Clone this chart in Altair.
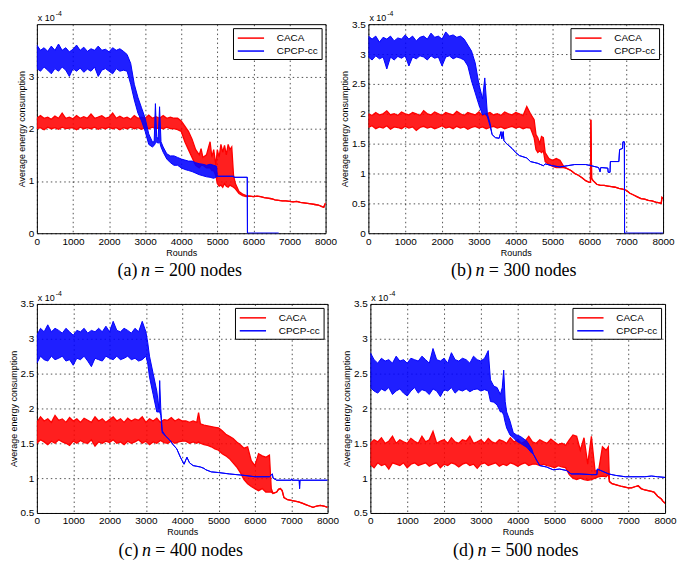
import altair as alt
import pandas as pd

RED = "#ff0000"
BLUE = "#0000ff"
FONT = "Liberation Sans"
SERIF = "Liberation Serif"
SERIES = ["CACA", "CPCP-cc"]
X_TICKS = [0, 1000, 2000, 3000, 4000, 5000, 6000, 7000, 8000]

# ---------------- (a) n = 200 ----------------
A_blue_x = list(range(0, 2500, 100))
A_blue_hi = [3.6, 3.5, 3.55, 3.48, 3.58, 3.5, 3.62, 3.5, 3.55, 3.47, 3.52, 3.6, 3.5, 3.56, 3.48,
             3.53, 3.5, 3.58, 3.5, 3.52, 3.47, 3.55, 3.5, 3.53, 3.48]
A_blue_lo = [3.15, 3.1, 3.18, 3.12, 3.05, 3.15, 3.1, 3.18, 3.12, 3.0, 3.15, 3.1, 3.16, 3.08, 3.14,
             3.1, 3.18, 3.0, 3.12, 3.15, 3.1, 3.05, 3.15, 3.1, 3.12]
A_blue_tail = [(2500, 3.1, 3.42), (2600, 2.85, 3.25), (2700, 2.55, 2.85), (2800, 2.3, 2.6),
               (2900, 2.15, 2.4), (3000, 1.95, 2.2), (3100, 1.7, 1.9), (3200, 1.65, 1.75),
               (3250, 1.68, 1.75), (3285, 1.72, 2.48), (3320, 1.75, 1.85), (3360, 1.72, 1.8),
               (3400, 1.75, 2.42), (3440, 1.65, 1.75), (3500, 1.55, 1.65), (3600, 1.42, 1.52),
               (3700, 1.35, 1.48), (3800, 1.3, 1.48), (3900, 1.3, 1.45), (4000, 1.25, 1.42),
               (4100, 1.22, 1.4), (4200, 1.2, 1.38), (4300, 1.18, 1.38), (4400, 1.15, 1.35),
               (4500, 1.12, 1.33), (4600, 1.1, 1.32), (4700, 1.08, 1.3), (4800, 1.07, 1.32),
               (4900, 1.05, 1.3), (4980, 1.08, 1.28), (5000, 1.09, 1.09), (5450, 1.09, 1.09),
               (5460, 1.07, 1.07), (5830, 1.07, 1.07), (5835, 0, 0), (6700, 0, 0)]
A_red_x = list(range(0, 4000, 100))
A_red_hi = [2.2, 2.25, 2.2, 2.22, 2.18, 2.24, 2.2, 2.3, 2.2, 2.22,
            2.19, 2.25, 2.2, 2.23, 2.2, 2.28, 2.2, 2.22, 2.25, 2.2,
            2.22, 2.3, 2.2, 2.24, 2.2, 2.22, 2.18, 2.25, 2.2, 2.22,
            2.2, 2.26, 2.2, 2.23, 2.2, 2.25, 2.2, 2.22, 2.2, 2.2]
A_red_lo = [2.0, 2.02, 1.98, 2.03, 2.0, 2.02, 1.99, 2.03, 2.0, 2.01,
            2.02, 1.98, 2.03, 2.0, 2.02, 2.0, 2.03, 1.99, 2.02, 2.0,
            2.03, 2.0, 2.02, 1.98, 2.02, 2.0, 2.03, 2.0, 2.02, 1.99,
            2.02, 2.0, 2.03, 2.0, 2.02, 2.0, 2.03, 2.0, 2.0, 1.98]
A_red_tail = [(4000, 1.95, 2.15), (4100, 1.75, 2.05), (4200, 1.6, 1.95), (4300, 1.45, 1.8),
              (4400, 1.3, 1.6), (4500, 1.25, 1.5), (4550, 1.3, 1.62), (4600, 1.3, 1.45),
              (4700, 1.25, 1.5), (4800, 1.25, 1.75), (4850, 1.2, 1.45), (4900, 1.2, 1.6),
              (4960, 1.1, 1.3), (5000, 0.95, 1.6), (5050, 0.9, 1.45), (5100, 0.92, 1.7),
              (5150, 0.88, 1.55), (5200, 0.95, 1.68), (5250, 0.9, 1.5), (5300, 0.88, 1.7),
              (5350, 0.92, 1.6), (5400, 0.9, 1.65), (5450, 0.88, 1.1), (5500, 0.85, 0.95),
              (5600, 0.76, 0.8), (5700, 0.72, 0.75), (5800, 0.7, 0.72), (5900, 0.71, 0.71),
              (6000, 0.7, 0.7), (6100, 0.71, 0.71), (6200, 0.7, 0.7), (6300, 0.68, 0.68),
              (6400, 0.67, 0.67), (6500, 0.66, 0.66), (6600, 0.64, 0.64), (6700, 0.63, 0.63),
              (6800, 0.62, 0.62), (6900, 0.62, 0.62), (7000, 0.61, 0.61), (7100, 0.6, 0.6),
              (7200, 0.61, 0.61), (7300, 0.59, 0.59), (7400, 0.58, 0.58), (7500, 0.57, 0.57),
              (7600, 0.56, 0.56), (7700, 0.55, 0.55), (7800, 0.54, 0.54), (7900, 0.51, 0.51),
              (7950, 0.5, 0.5), (8000, 0.58, 0.58)]

# ---------------- (b) n = 300 ----------------
B_blue_x = list(range(0, 2600, 100))
B_blue_hi = [3.3, 3.25, 3.3, 3.2, 3.28, 3.25, 3.3, 3.22, 3.27, 3.25,
             3.32, 3.25, 3.3, 3.22, 3.28, 3.3, 3.25, 3.35, 3.28, 3.3,
             3.25, 3.37, 3.3, 3.32, 3.28, 3.3]
B_blue_lo = [2.95, 2.9, 2.97, 2.92, 2.95, 2.75, 2.95, 2.9, 2.96, 2.93,
             2.97, 2.8, 2.95, 2.92, 2.97, 2.95, 2.9, 2.97, 2.93, 2.95,
             2.8, 2.95, 2.97, 2.92, 2.95, 2.93]
B_blue_tail = [(2600, 2.9, 3.25), (2700, 2.8, 3.15), (2800, 2.55, 3.05), (2900, 2.35, 2.85),
               (3000, 2.15, 2.5), (3100, 1.98, 2.25), (3160, 2.0, 2.6), (3230, 1.95, 2.0),
               (3300, 1.8, 1.85), (3360, 1.65, 1.65), (3450, 1.6, 1.6), (3550, 1.59, 1.59),
               (3600, 1.7, 1.7), (3620, 1.58, 1.58), (3660, 1.7, 1.7), (3680, 1.55, 1.55),
               (3750, 1.5, 1.5), (3900, 1.42, 1.42), (4000, 1.35, 1.35), (4100, 1.3, 1.3),
               (4300, 1.26, 1.26), (4400, 1.2, 1.2), (4600, 1.17, 1.17), (4750, 1.13, 1.13),
               (4800, 1.16, 1.16), (5000, 1.13, 1.13), (5200, 1.11, 1.11), (5400, 1.13, 1.13),
               (5600, 1.15, 1.15), (5900, 1.15, 1.15), (6050, 1.13, 1.13), (6250, 1.1, 1.1),
               (6290, 1.03, 1.03), (6310, 1.1, 1.1), (6500, 1.09, 1.09), (6510, 1.02, 1.02),
               (6560, 1.02, 1.02), (6570, 1.2, 1.2), (6800, 1.2, 1.2), (6820, 1.4, 1.4),
               (6900, 1.42, 1.42), (6910, 1.53, 1.53), (6950, 1.53, 1.53), (6955, 0, 0),
               (8000, 0, 0)]
B_red_x = list(range(0, 4500, 100))
B_red_hi = [2.0, 1.97, 2.02, 1.98, 2.0, 2.05, 1.98, 2.0, 1.97, 2.03,
            2.0, 1.98, 2.02, 2.0, 1.97, 2.05, 2.0, 1.98, 2.03, 2.0,
            1.97, 2.02, 2.0, 1.98, 2.04, 2.0, 1.97, 2.02, 2.0, 1.98,
            2.03, 1.97, 2.0, 2.02, 1.98, 2.0, 1.97, 2.03, 2.0, 1.98,
            2.02, 2.0, 1.97, 2.12, 2.0]
B_red_lo = [1.77, 1.8, 1.75, 1.78, 1.76, 1.8, 1.74, 1.78, 1.77, 1.75,
            1.79, 1.76, 1.78, 1.72, 1.77, 1.79, 1.76, 1.78, 1.75, 1.77,
            1.8, 1.76, 1.78, 1.75, 1.79, 1.76, 1.78, 1.74, 1.77, 1.79,
            1.76, 1.78, 1.75, 1.77, 1.79, 1.76, 1.78, 1.75, 1.77, 1.79,
            1.76, 1.78, 1.75, 1.77, 1.76]
B_red_tail = [(4500, 1.6, 1.9), (4550, 1.4, 1.65), (4600, 1.35, 1.6), (4650, 1.38, 1.5),
              (4700, 1.35, 1.62), (4750, 1.38, 1.6), (4800, 1.2, 1.35), (4900, 1.15, 1.25),
              (5000, 1.12, 1.22), (5100, 1.1, 1.25), (5200, 1.1, 1.22), (5300, 1.1, 1.12),
              (5400, 1.08, 1.08), (5500, 1.05, 1.05), (5600, 1.0, 1.0), (5700, 0.97, 0.97),
              (5800, 0.93, 0.93), (5900, 0.88, 0.88), (6000, 0.85, 0.85), (6030, 0.85, 0.85),
              (6040, 1.9, 1.9), (6060, 0.92, 0.92), (6100, 0.88, 0.88), (6200, 0.82, 0.82),
              (6300, 0.8, 0.8), (6400, 0.8, 0.8), (6500, 0.79, 0.79), (6600, 0.78, 0.78),
              (6700, 0.77, 0.77), (6800, 0.75, 0.75), (6900, 0.74, 0.74), (7000, 0.72, 0.72),
              (7100, 0.67, 0.67), (7200, 0.64, 0.64), (7300, 0.61, 0.61), (7400, 0.58, 0.58),
              (7500, 0.57, 0.57), (7600, 0.55, 0.55), (7700, 0.54, 0.54), (7800, 0.52, 0.52),
              (7900, 0.51, 0.51), (7950, 0.5, 0.5), (7970, 0.6, 0.6), (8000, 0.58, 0.58)]

# ---------------- (c) n = 400 ----------------
C_blue_x = list(range(0, 3100, 100))
C_blue_hi = [3.05, 3.15, 3.1, 3.2, 3.1, 3.15, 3.12, 3.08, 3.15, 3.1,
             3.05, 3.12, 3.1, 3.15, 3.08, 3.12, 3.1, 3.15, 3.1, 3.18,
             3.1, 3.25, 3.12, 3.1, 3.15, 3.12, 3.08, 3.15, 3.1, 3.25,
             3.1]
C_blue_lo = [2.65, 2.75, 2.7, 2.68, 2.75, 2.7, 2.72, 2.75, 2.68, 2.7,
             2.62, 2.72, 2.7, 2.75, 2.68, 2.6, 2.72, 2.7, 2.68, 2.75,
             2.72, 2.7, 2.75, 2.7, 2.72, 2.75, 2.7, 2.72, 2.68, 2.7,
             2.75]
C_blue_tail = [(3050, 2.65, 2.95), (3100, 2.45, 2.75), (3200, 2.2, 2.5), (3300, 1.95, 2.25),
               (3360, 1.95, 2.0), (3380, 1.95, 2.4), (3410, 1.9, 2.0), (3450, 1.65, 1.68),
               (3550, 1.6, 1.6), (3650, 1.55, 1.55), (3750, 1.48, 1.48), (3850, 1.42, 1.42),
               (3950, 1.3, 1.3), (4000, 1.25, 1.25), (4050, 1.2, 1.2), (4130, 1.3, 1.3),
               (4200, 1.22, 1.22), (4300, 1.18, 1.18), (4400, 1.17, 1.17), (4500, 1.16, 1.16),
               (4600, 1.14, 1.14), (4650, 1.12, 1.12), (4800, 1.09, 1.09), (5000, 1.08, 1.08),
               (5300, 1.06, 1.06), (5700, 1.04, 1.04), (6000, 1.02, 1.02), (6400, 1.02, 1.02),
               (6480, 1.06, 1.06), (6500, 1.0, 1.0), (6600, 0.97, 0.97), (7000, 0.97, 0.97),
               (7010, 0.99, 0.99), (7030, 0.97, 0.97), (7220, 0.97, 0.97), (7230, 0.85, 0.85),
               (7240, 0.97, 0.97), (8000, 0.97, 0.97)]
C_red_x = list(range(0, 4100, 100))
C_red_hi = [1.8, 1.88, 1.82, 1.85, 1.8, 1.9, 1.83, 1.85, 1.8, 1.87,
            1.82, 1.85, 1.8, 1.86, 1.83, 1.8, 1.88, 1.82, 1.85, 1.8,
            1.84, 1.88, 1.82, 1.85, 1.8, 1.86, 1.82, 1.85, 1.83, 1.88,
            1.8, 1.85, 1.82, 1.86, 1.8, 1.84, 1.83, 1.87, 1.82, 1.85,
            1.82]
C_red_lo = [1.5, 1.55, 1.52, 1.48, 1.53, 1.5, 1.55, 1.52, 1.5, 1.47,
            1.53, 1.5, 1.54, 1.51, 1.5, 1.55, 1.46, 1.52, 1.5, 1.53,
            1.51, 1.55, 1.5, 1.52, 1.48, 1.53, 1.5, 1.52, 1.55, 1.5,
            1.53, 1.48, 1.52, 1.5, 1.54, 1.51, 1.5, 1.53, 1.5, 1.52,
            1.53]
C_red_tail = [(4100, 1.53, 1.82), (4200, 1.5, 1.8), (4300, 1.52, 1.82), (4400, 1.5, 1.8),
              (4450, 1.52, 1.94), (4500, 1.5, 1.78), (4600, 1.48, 1.76), (4700, 1.47, 1.75),
              (4800, 1.45, 1.74), (4900, 1.42, 1.73), (5000, 1.4, 1.72), (5100, 1.35, 1.68),
              (5200, 1.32, 1.63), (5300, 1.28, 1.6), (5400, 1.22, 1.57), (5500, 1.16, 1.52),
              (5600, 1.08, 1.48), (5700, 0.98, 1.43), (5800, 0.92, 1.45), (5900, 0.88, 1.25),
              (6000, 0.85, 1.18), (6100, 0.82, 1.35), (6200, 0.85, 1.32), (6300, 0.8, 1.3),
              (6400, 0.8, 1.33), (6450, 0.8, 0.85), (6500, 0.78, 0.78), (6600, 0.8, 0.8),
              (6650, 0.84, 0.84), (6700, 0.85, 0.85), (6750, 0.82, 0.82), (6800, 0.72, 0.72),
              (6900, 0.69, 0.69), (7000, 0.68, 0.68), (7100, 0.67, 0.67), (7200, 0.66, 0.66),
              (7300, 0.64, 0.64), (7400, 0.62, 0.62), (7500, 0.6, 0.6), (7600, 0.58, 0.58),
              (7700, 0.6, 0.6), (7800, 0.61, 0.61), (7900, 0.6, 0.6), (8000, 0.58, 0.58)]

# ---------------- (d) n = 500 ----------------
D_blue_x = list(range(0, 3300, 100))
D_blue_hi = [2.8, 2.7, 2.65, 2.72, 2.68, 2.7, 2.65, 2.75, 2.68, 2.7,
             2.65, 2.72, 2.7, 2.68, 2.75, 2.7, 2.65, 2.86, 2.7, 2.68,
             2.72, 2.65, 2.8, 2.7, 2.68, 2.72, 2.7, 2.65, 2.75, 2.7,
             2.68, 2.72, 2.83]
D_blue_lo = [2.3, 2.25, 2.22, 2.28, 2.25, 2.3, 2.2, 2.25, 2.28, 2.22,
             2.18, 2.25, 2.3, 2.22, 2.27, 2.25, 2.2, 2.28, 2.25, 2.17,
             2.27, 2.25, 2.3, 2.22, 2.27, 2.25, 2.28, 2.24, 2.27, 2.28,
             2.25, 2.27, 2.25]
D_blue_tail = [(3260, 2.1, 2.41), (3350, 2.09, 2.32), (3440, 2.05, 2.3), (3530, 1.95, 2.2),
               (3580, 1.95, 2.3), (3620, 1.9, 2.55), (3660, 1.8, 2.1), (3700, 1.72, 1.95),
               (3790, 1.62, 1.82), (3880, 1.58, 1.65), (3970, 1.53, 1.62), (4070, 1.5, 1.6),
               (4250, 1.44, 1.53), (4380, 1.36, 1.42), (4430, 1.34, 1.34), (4520, 1.25, 1.25),
               (4600, 1.18, 1.18), (4780, 1.16, 1.16), (4960, 1.12, 1.12), (5140, 1.13, 1.13),
               (5320, 1.11, 1.11), (5450, 1.06, 1.06), (5670, 1.06, 1.06), (6030, 1.05, 1.05),
               (6150, 1.05, 1.05), (6160, 1.13, 1.13), (6250, 1.11, 1.11), (6470, 1.06, 1.06),
               (6650, 1.04, 1.04), (6920, 1.02, 1.02), (7450, 1.02, 1.02), (7630, 1.03, 1.03),
               (7800, 1.02, 1.02), (8000, 1.01, 1.01)]
D_red_x = list(range(0, 5400, 100))
D_red_hi = [1.5, 1.55, 1.52, 1.58, 1.5, 1.53, 1.6, 1.5, 1.55, 1.52,
            1.5, 1.57, 1.53, 1.5, 1.6, 1.52, 1.55, 1.67, 1.5, 1.53,
            1.55, 1.5, 1.58, 1.52, 1.5, 1.55, 1.53, 1.6, 1.5, 1.52,
            1.55, 1.5, 1.57, 1.52, 1.5, 1.55, 1.53, 1.5, 1.58, 1.52,
            1.55, 1.5, 1.53, 1.6, 1.52, 1.5, 1.55, 1.52, 1.5, 1.56,
            1.52, 1.48, 1.5, 1.47]
D_red_lo = [1.2, 1.15, 1.22, 1.18, 1.2, 1.13, 1.22, 1.2, 1.18, 1.22,
            1.15, 1.2, 1.22, 1.18, 1.2, 1.22, 1.17, 1.2, 1.22, 1.15,
            1.2, 1.18, 1.22, 1.2, 1.16, 1.2, 1.22, 1.18, 1.2, 1.14,
            1.2, 1.22, 1.18, 1.2, 1.22, 1.17, 1.2, 1.18, 1.22, 1.2,
            1.17, 1.2, 1.22, 1.18, 1.2, 1.2, 1.18, 1.2, 1.18, 1.17,
            1.15, 1.18, 1.16, 1.15]
D_red_tail = [(5400, 1.05, 1.55), (5500, 1.0, 1.62), (5600, 0.98, 1.6), (5700, 1.0, 1.4),
              (5800, 0.98, 1.58), (5900, 0.97, 1.2), (6000, 0.98, 1.6), (6100, 1.0, 1.1),
              (6200, 1.02, 1.12), (6300, 1.03, 1.45), (6400, 1.02, 1.4), (6460, 1.05, 1.45),
              (6490, 0.95, 0.95), (6560, 0.92, 0.92), (6700, 0.9, 0.9), (6830, 0.88, 0.88),
              (7000, 0.86, 0.86), (7090, 0.86, 0.86), (7200, 0.88, 0.88), (7270, 0.89, 0.89),
              (7350, 0.85, 0.85), (7450, 0.83, 0.83), (7630, 0.81, 0.81), (7700, 0.8, 0.8),
              (7800, 0.74, 0.74), (7900, 0.7, 0.7), (7940, 0.67, 0.67), (8000, 0.64, 0.64)]


def frame(name, xs, lo, hi, tail):
    rows = [{"x": x, "lo": l, "hi": h, "series": name} for x, l, h in zip(xs, lo, hi)]
    rows += [{"x": x, "lo": l, "hi": h, "series": name} for x, l, h in tail]
    return pd.DataFrame(rows)


def panel(tag, nodes, red_df, blue_df, ydom, yticks, w, h):
    xenc = alt.X("x:Q", scale=alt.Scale(domain=[0, 8000], nice=False, zero=False),
                 axis=alt.Axis(values=X_TICKS, format="d", title="Rounds"))
    yaxis = alt.Axis(values=yticks, format="~g", title="Average energy consumption")
    yscale = alt.Scale(domain=ydom, nice=False, zero=False)
    color = alt.Color("series:N",
                      scale=alt.Scale(domain=SERIES, range=[RED, BLUE]),
                      legend=alt.Legend(title=None, orient="top-right", offset=4,
                                        strokeColor="black", fillColor="white",
                                        padding=3, symbolType="M-2.2,0H2.2", symbolSize=144,
                                        symbolOffset=8, labelOffset=19,
                                        symbolStrokeWidth=1.5, labelFont=FONT,
                                        labelFontSize=10, labelColor="black",
                                        rowPadding=1, cornerRadius=0))

    def area(df, col):
        return alt.Chart(df).mark_area(color=col, opacity=0.88).encode(
            x=xenc, y=alt.Y("lo:Q", scale=yscale, axis=yaxis), y2="hi:Q")

    def line(df, field, sw):
        return alt.Chart(df).mark_line(strokeWidth=sw, clip=True).encode(
            x=xenc, y=alt.Y(f"{field}:Q", scale=yscale, axis=yaxis), color=color)

    def txt(s, x, y, size, align="left", style="normal", font=FONT):
        return alt.Chart(pd.DataFrame({"t": [s]})).mark_text(
            align=align, baseline="middle", fontSize=size, font=font,
            fontStyle=style, color="black").encode(
            text="t:N", x=alt.value(x), y=alt.value(y))

    c = w / 2 - 36
    layers = [
        area(red_df, RED), line(red_df, "lo", 1.3), line(red_df, "hi", 1.3),
        area(blue_df, BLUE), line(blue_df, "lo", 1.0), line(blue_df, "hi", 1.0),
        txt("x 10", 1, -6, 9), txt("-4", 19, -10, 7),
        txt(f"({tag})", c - 8, h + 38, 18, align="right", font=SERIF),
        txt("n", c, h + 38, 18, align="center", style="italic", font=SERIF),
        txt(f"= {nodes} nodes", c + 9, h + 38, 18, font=SERIF),
    ]
    return alt.layer(*layers).properties(width=w, height=h)


pa = panel("a", 200, frame("CACA", A_red_x, A_red_lo, A_red_hi, A_red_tail),
           frame("CPCP-cc", A_blue_x, A_blue_lo, A_blue_hi, A_blue_tail),
           [0, 4], [0, 1, 2, 3], 290, 210)
pb = panel("b", 300, frame("CACA", B_red_x, B_red_lo, B_red_hi, B_red_tail),
           frame("CPCP-cc", B_blue_x, B_blue_lo, B_blue_hi, B_blue_tail),
           [0, 3.5], [0, 0.5, 1, 1.5, 2, 2.5, 3, 3.5], 296, 210)
pc = panel("c", 400, frame("CACA", C_red_x, C_red_lo, C_red_hi, C_red_tail),
           frame("CPCP-cc", C_blue_x, C_blue_lo, C_blue_hi, C_blue_tail),
           [0.5, 3.5], [0.5, 1, 1.5, 2, 2.5, 3, 3.5], 292, 210)
pd_ = panel("d", 500, frame("CACA", D_red_x, D_red_lo, D_red_hi, D_red_tail),
            frame("CPCP-cc", D_blue_x, D_blue_lo, D_blue_hi, D_blue_tail),
            [0.5, 3.5], [0.5, 1, 1.5, 2, 2.5, 3, 3.5], 296, 210)


def row(a, b):
    return alt.hconcat(a, b, spacing=2).resolve_scale(
        color="independent", x="independent", y="independent").resolve_legend(color="independent")


chart = alt.vconcat(row(pa, pb), row(pc, pd_), spacing=8).resolve_scale(
    color="independent", x="independent", y="independent").resolve_legend(
    color="independent").properties(padding=0).configure_view(
    stroke="black", strokeWidth=1).configure_axis(
    gridColor="black", gridDash=[1.5, 3], gridOpacity=0.85, gridWidth=0.8,
    domain=False, ticks=False, labelFlush=False, labelFont=FONT, labelFontSize=10,
    labelColor="black", titleFont=FONT, titleFontSize=9, titleFontWeight="normal",
    titleColor="black", labelPadding=3, titlePadding=2)

chart.save("out.html", embed_options={"renderer": "svg", "actions": False})
